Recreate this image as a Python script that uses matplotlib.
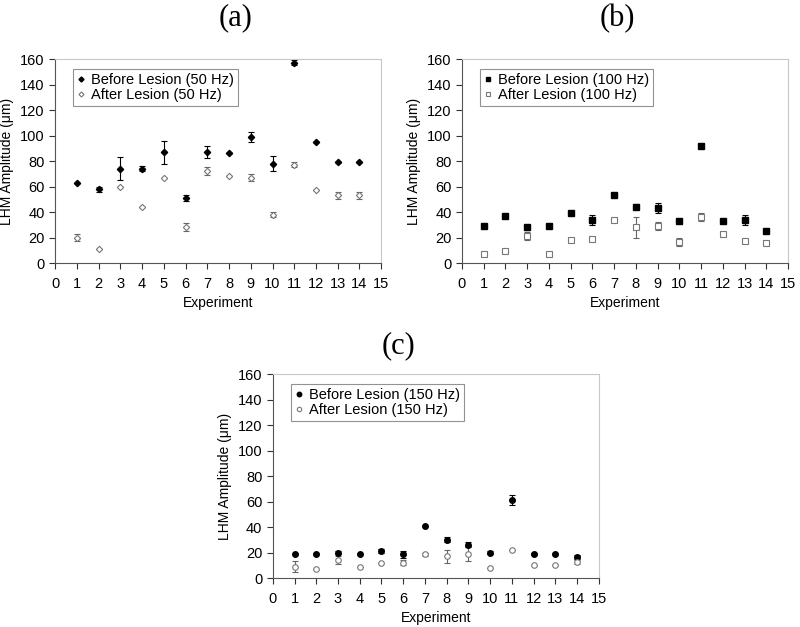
import numpy as np
import matplotlib.pyplot as plt
from matplotlib.lines import Line2D

experiments = np.arange(1, 15)

# (a) 50 Hz
before_50 = [63, 58, 74, 74, 87, 51, 87, 86, 99, 78, 157, 95, 79, 79]
before_50_err = [0, 2, 9, 2, 9, 2, 4.5, 0, 4, 6, 2, 0, 0, 0]
after_50 = [20, 11, 60, 44, 67, 28, 72, 68, 67, 38, 77, 57, 53, 53]
after_50_err = [3, 0, 0, 0, 0, 3, 3, 0, 3, 2, 2, 0, 3, 3]

# (b) 100 Hz
before_100 = [29, 37, 28, 29, 39, 34, 53, 44, 43, 33, 92, 33, 34, 25]
before_100_err = [0, 1.5, 2, 0, 1, 4, 0, 2, 4, 0, 0, 1.5, 4, 0]
after_100 = [7, 9.5, 21, 7, 18, 19, 34, 28, 29, 16.5, 36, 23, 17, 16]
after_100_err = [0, 0, 3, 0, 0, 1, 0, 8, 3, 3, 3, 0, 0, 1.5]

# (c) 150 Hz
before_150 = [18.5, 19, 20, 19, 21, 18.5, 41, 30, 26, 20, 61, 19, 18.5, 16.5]
before_150_err = [0, 0, 1.5, 0, 1.5, 3, 0, 2, 2, 1, 4, 1, 0, 1.5]
after_150 = [9, 7, 14, 9, 12, 12, 18.5, 17, 19, 8, 22, 10, 10, 12.5]
after_150_err = [4, 0, 3, 0, 0, 2, 1.5, 5, 6, 0, 0, 0, 0, 1.5]

plt.rcParams['font.family'] = ['Liberation Sans', 'DejaVu Sans']

fig = plt.figure(figsize=(8, 6.27), dpi=100)

panels = [
    ('(a)', [0.069, 0.5805, 0.4075, 0.3254], (0.294, 0.971), 'D', 3.2,
     before_50, before_50_err, after_50, after_50_err, '50 Hz'),
    ('(b)', [0.5775, 0.5805, 0.4075, 0.3254], (0.772, 0.971), 's', 4.0,
     before_100, before_100_err, after_100, after_100_err, '100 Hz'),
    ('(c)', [0.341, 0.0781, 0.4075, 0.3254], (0.498, 0.449), 'o', 4.0,
     before_150, before_150_err, after_150, after_150_err, '150 Hz'),
]

for label, rect, title_xy, marker, ms, bef, bef_err, aft, aft_err, freq in panels:
    ax = fig.add_axes(rect)
    ax.errorbar(experiments, bef, yerr=bef_err, fmt=marker, color='black', ms=ms,
                ecolor='black', elinewidth=0.8, capsize=2, capthick=0.8)
    ax.errorbar(experiments, aft, yerr=aft_err, fmt=marker, mfc='white', mec='#777777',
                ms=ms, mew=0.8, ecolor='#666666', elinewidth=0.8, capsize=2,
                capthick=0.8)
    ax.set_xlim(0, 15)
    ax.set_ylim(0, 160)
    ax.set_xticks(range(0, 16))
    ax.set_yticks(range(0, 161, 20))
    ax.tick_params(labelsize=10.5, direction='out', length=4, width=0.8,
                   colors='#333333', labelcolor='black')
    ax.tick_params(axis='x', pad=6)
    for side in ('top', 'right'):
        ax.spines[side].set_color('#c8c8c8')
    for side in ('left', 'bottom'):
        ax.spines[side].set_color('#555555')
    ax.set_xlabel('Experiment', fontsize=10, labelpad=4)
    ax.set_ylabel('LHM Amplitude (\u03bcm)', fontsize=10)
    ax.yaxis.set_label_coords(-0.125, 0.5)

    handles = [
        Line2D([], [], ls='none', marker=marker, color='black', ms=ms * 0.8),
        Line2D([], [], ls='none', marker=marker, mfc='white', mec='#777777',
               mew=0.8, ms=ms * 0.8),
    ]
    leg = ax.legend(handles, ['Before Lesion (%s)' % freq, 'After Lesion (%s)' % freq],
                    loc='upper left', bbox_to_anchor=(0.055, 0.95), fontsize=10.5,
                    frameon=True, fancybox=False, edgecolor='#777777',
                    handlelength=0.6, handletextpad=0.4, borderpad=0.25,
                    labelspacing=0.1, borderaxespad=0)
    leg.get_frame().set_linewidth(0.8)
    fig.text(title_xy[0], title_xy[1], label, fontsize=22, family='Liberation Serif',
             ha='center', va='center')

fig.savefig('out.png', dpi=100)
